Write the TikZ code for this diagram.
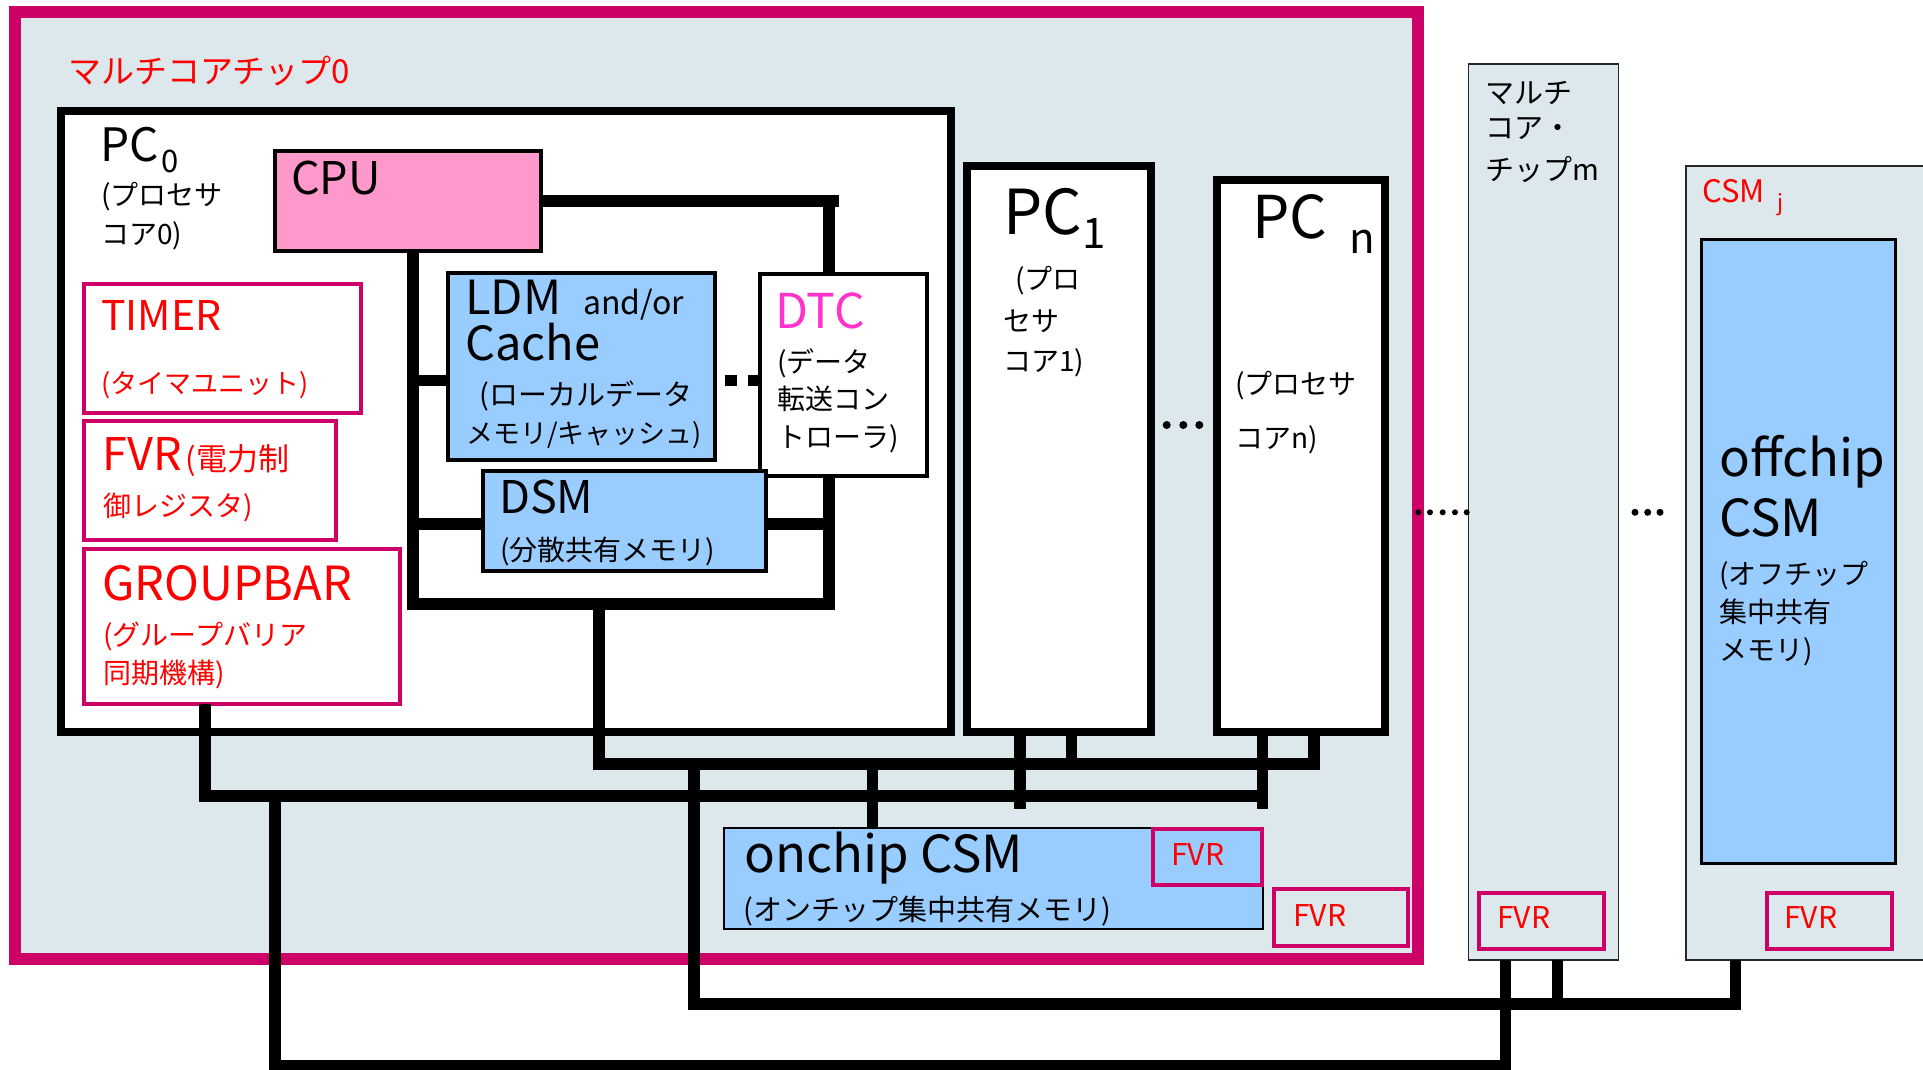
\documentclass[tikz,border=0pt]{standalone}
\usepackage{fontspec}
\setmainfont{Noto Sans CJK JP}
\newcommand{\setfs}[1]{\fontsize{#1}{#1}\selectfont}
\definecolor{chipbg}{RGB}{221,232,237}
\definecolor{chipframe}{RGB}{204,0,102}
\definecolor{cpupink}{RGB}{255,153,204}
\definecolor{memblue}{RGB}{153,204,255}
\definecolor{dtcpink}{RGB}{255,51,204}
\definecolor{thingray}{RGB}{40,40,40}
\tikzset{
    box/.style={draw, inner sep=0pt, outer sep=0pt, anchor=north west},
    corebox/.style={box, line width=8pt, fill=white},
    membox/.style={box, line width=4pt, fill=memblue},
    regbox/.style={box, draw=chipframe, line width=4pt, fill=white},
    fvrbox/.style={regbox, minimum height=56.5pt},
    bus/.style={line width=11.5pt},
    lbl/.style={inner sep=0pt, anchor=base west},
    jp/.style={lbl, font=\setfs{28}},
}

\begin{document}
\begin{tikzpicture}[x=1pt, y=-1pt]
    \useasboundingbox (0,0) rectangle (1923,1070);
    % chip 0 with its cores
    \node[box, draw=chipframe, line width=12pt, fill=chipbg, minimum width=1402.5pt, minimum height=947pt] (chip0) at (15,12) {};
    \node[lbl, text=red, font=\setfs{33}] (chip0lbl) at (68,84) {マルチコアチップ0};

    \node[corebox, minimum width=890pt, minimum height=620.5pt] (pc0) at (61,111) {};
    \node[lbl, font=\setfs{46}] (pc0lbl) at (100,161) {PC};
    \node[lbl, font=\setfs{31}] (pc0sub) at (161,172.7) {0};
    \node[jp] (pc0txt1) at (101,205) {(プロセサ};
    \node[jp] (pc0txt2) at (101,244) {コア0)};

    \node[box, line width=4pt, fill=cpupink, minimum width=266pt, minimum height=100pt] (cpu) at (275,151) {};
    \node[lbl, font=\setfs{45}] (cpulbl) at (291,194) {CPU};

    \node[regbox, minimum width=277pt, minimum height=129pt] (timer) at (84,284) {};
    \node[lbl, text=red, font=\setfs{41}] (timerlbl) at (101,330) {TIMER};
    \node[lbl, text=red, font=\setfs{27}] (timertxt) at (101,393) {(タイマユニット)};

    \node[regbox, minimum width=251.7pt, minimum height=118.4pt] (fvr0) at (84,421.3) {};
    \node[lbl, text=red, font=\setfs{45}] (fvr0lbl) at (102,470.7) {FVR{\setfs{31}\hspace{4pt}(電力制}};
    \node[jp, text=red] (fvr0txt) at (103,516) {御レジスタ)};

    \node[regbox, minimum width=315.7pt, minimum height=154.4pt] (gbar) at (84,549.3) {};
    \node[lbl, text=red, font=\setfs{47}] (gbarlbl) at (102,600) {GROUPBAR};
    \node[jp, text=red] (gbartxt1) at (103,645) {(グループバリア};
    \node[jp, text=red] (gbartxt2) at (103,683) {同期機構)};

    \node[membox, minimum width=267.3pt, minimum height=187pt] (ldm) at (448,272.7) {};
    \node[lbl, font=\setfs{47}] (ldmlbl) at (465,314) {LDM};
    \node[lbl, font=\setfs{32}] (andor) at (583,314) {and/or};
    \node[lbl, font=\setfs{47}] (cachelbl) at (465,360) {Cache};
    \node[lbl, font=\setfs{29}] (ldmtxt1) at (479,405) {(ローカルデータ};
    \node[lbl, font=\setfs{27}] (ldmtxt2) at (466,443) {メモリ/キャッシュ)};

    \node[box, line width=4pt, fill=white, minimum width=166.7pt, minimum height=201.4pt] (dtc) at (760.3,274.3) {};
    \node[lbl, text=dtcpink, font=\setfs{48}] (dtclbl) at (775,328.3) {DTC};
    \node[jp] (dtctxt1) at (777,372) {(データ};
    \node[jp] (dtctxt2) at (777,409) {転送コン};
    \node[jp] (dtctxt3) at (777,447) {トローラ)};

    \node[membox, minimum width=283.6pt, minimum height=100.3pt] (dsm) at (482.7,471) {};
    \node[lbl, font=\setfs{45}] (dsmlbl) at (499,513.3) {DSM};
    \node[jp] (dsmtxt) at (500,560) {(分散共有メモリ)};

    \node[corebox, minimum width=183.5pt, minimum height=565.5pt] (pc1) at (967,166) {};
    \node[lbl, font=\setfs{62}] (pc1lbl) at (1003,234) {PC};
    \node[lbl, font=\setfs{42}] (pc1sub) at (1082,248) {1};
    \node[jp] (pc1txt1) at (1015,289) {(プロ};
    \node[jp] (pc1txt2) at (1003,331) {セサ};
    \node[jp] (pc1txt3) at (1003,371) {コア1)};

    \node[corebox, minimum width=167.5pt, minimum height=551pt] (pcn) at (1217,180.5) {};
    \node[lbl, font=\setfs{59}] (pcnlbl) at (1252,238.3) {PC};
    \node[lbl, font=\setfs{42}] (pcnsub) at (1349,253.3) {n};
    \node[jp] (pcntxt1) at (1235,394) {(プロセサ};
    \node[jp] (pcntxt2) at (1235,448) {コアn)};

    % on-chip shared memory and FVRs
    \node[box, line width=2pt, fill=memblue, minimum width=538.5pt, minimum height=101pt] (ocsm) at (724,828) {};
    \node[lbl, font=\setfs{51}] (ocsmlbl) at (744,872.7) {onchip CSM};
    \node[lbl, font=\setfs{29}] (ocsmtxt) at (743,920) {(オンチップ集中共有メモリ)};
    \node[fvrbox, fill=memblue, minimum width=109pt] (ocfvr) at (1153,828.7) {};
    \node[lbl, text=red, font=\setfs{30}] (ocfvrlbl) at (1171,865) {FVR};
    \node[fvrbox, fill=chipbg, minimum width=133.7pt] (chipfvr) at (1274.3,889.3) {};
    \node[lbl, text=red, font=\setfs{30}] (chipfvrlbl) at (1293,926) {FVR};

    % chip m and off-chip CSM
    \node[box, draw=thingray, line width=1.5pt, fill=chipbg, minimum width=150pt, minimum height=896pt] (chipm) at (1468.5,64) {};
    \node[lbl, font=\setfs{29}] (chipmtxt1) at (1485,104) {マルチ};
    \node[lbl, font=\setfs{29}] (chipmtxt2) at (1485,139) {コア・};
    \node[lbl, font=\setfs{29}] (chipmtxt3) at (1485,180) {チップm};
    \node[fvrbox, fill=chipbg, minimum width=124.5pt] (mfvr) at (1479.3,892.5) {};
    \node[lbl, text=red, font=\setfs{30}] (mfvrlbl) at (1497,928.3) {FVR};

    \node[box, draw=thingray, line width=2pt, fill=chipbg, minimum width=249.5pt, minimum height=793.5pt] (csmj) at (1685.5,166.5) {};
    \node[lbl, text=red, font=\setfs{31}] (csmjlbl) at (1702,202.7) {CSM};
    \node[lbl, text=red, font=\setfs{22}] (csmjsub) at (1777,210.6) {j};
    \node[box, line width=3pt, fill=memblue, minimum width=194pt, minimum height=624pt] (offcsm) at (1701.5,239) {};
    \node[lbl, font=\setfs{51}] (offlbl1) at (1719,476.7) {offchip};
    \node[lbl, font=\setfs{51}] (offlbl2) at (1719,536.7) {CSM};
    \node[jp] (offtxt1) at (1719,584) {(オフチップ};
    \node[jp] (offtxt2) at (1719,622) {集中共有};
    \node[jp] (offtxt3) at (1719,660) {メモリ)};
    \node[fvrbox, fill=chipbg, minimum width=125.5pt] (jfvr) at (1766.5,892.5) {};
    \node[lbl, text=red, font=\setfs{30}] (jfvrlbl) at (1784,928.3) {FVR};

    % buses inside PC0
    \draw[bus] (cpu.east) -- (cpu.east -| 839,0);
    \draw[bus] (cpu.east -| 829,0) -- (dtc.north -| 829,0);
    \draw[bus] (413,0 |- cpu.south) -- (413,604) -- (829,604) -- (829,0 |- dtc.south);
    \draw[bus] (413,380.5) -- (ldm.west |- 0,380.5);
    \draw[bus, dash pattern=on 11.5pt off 11.5pt, dash phase=13.3pt] (ldm.east |- 0,380.5) -- (dtc.west |- 0,380.5);
    \draw[bus] (413,524) -- (dsm.west |- 0,524);
    \draw[bus] (dsm.east |- 0,524) -- (829,524);

    % buses between the cores
    \draw[bus] (599,604) -- (599,764) -- (1314,764) -- (1314,0 |- pcn.south);
    \draw[bus] (1071.7,0 |- pc1.south) -- (1071.7,764);
    \draw[bus] (205,0 |- gbar.south) -- (205,796) -- (1262.5,796);
    \draw[bus] (1020,0 |- pc1.south) -- (1020,809);
    \draw[bus] (1262.5,0 |- pcn.south) -- (1262.5,809);
    \draw[bus] (872.5,764) -- (872.5,0 |- ocsm.north);

    % buses leaving the chip
    \draw[bus] (694,764) -- (694,1004) -- (1735.5,1004) -- (1735.5,0 |- csmj.south);
    \draw[bus] (1557.5,0 |- chipm.south) -- (1557.5,1004);
    \draw[bus] (275,802) -- (275,1066) -- (1505.5,1066) -- (1505.5,0 |- chipm.south);

    % dots
    \fill (1166.7,425) circle (4);
    \fill (1183.3,425) circle (4);
    \fill (1199.3,425) circle (4);
    \fill (1418.3,512.3) circle (3);
    \fill (1430,512.3) circle (3);
    \fill (1442.7,512.3) circle (3);
    \fill (1455,512.3) circle (3);
    \fill (1466.7,512.3) circle (3);
    \fill (1635,512.3) circle (3.5);
    \fill (1647.7,512.3) circle (3.5);
    \fill (1660,512.3) circle (3.5);
\end{tikzpicture}
\end{document}
